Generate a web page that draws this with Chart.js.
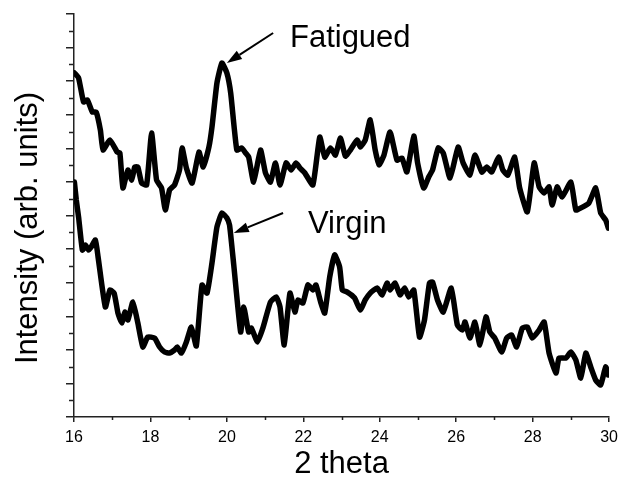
<!DOCTYPE html>
<html><head><meta charset="utf-8">
<script src="https://cdn.jsdelivr.net/npm/chart.js@4/dist/chart.umd.min.js"></script>
<style>html,body{margin:0;padding:0;background:#fff;}#wrap{width:624px;height:478px;}</style>
</head><body><div id="wrap"><canvas id="c" width="624" height="478"></canvas></div>
<script>
const thetaFatigued = [16.01,16.12,16.25,16.35,16.48,16.58,16.69,16.76,16.94,17.13,17.20,17.28,17.41,17.51,17.59,17.67,17.77,17.90,18.03,18.16,18.29,18.39,18.50,18.63,18.76,18.83,18.94,19.09,19.27,19.38,19.53,19.61,19.74,19.87,20.00,20.10,20.26,20.39,20.49,20.57,20.70,20.88,21.01,21.14,21.27,21.39,21.55,21.68,21.81,21.91,22.04,22.25,22.43,22.56,22.71,22.84,22.97,23.10,23.23,23.41,23.49,23.62,23.75,23.88,23.98,24.11,24.27,24.45,24.58,24.71,24.89,24.99,25.15,25.28,25.38,25.53,25.66,25.84,26.05,26.18,26.36,26.49,26.67,26.80,26.93,27.11,27.22,27.35,27.53,27.66,27.86,28.04,28.17,28.30,28.43,28.51,28.64,28.77,29.00,29.13,29.26,29.47,29.65,29.78,29.91,29.98];
const intensityFatigued = [204.9,201.9,187.6,188.8,181.6,181.6,170.9,159.0,165.0,157.8,157.2,136.4,147.1,141.1,148.9,148.9,139.3,138.2,169.1,141.1,136.4,123.3,135.2,138.2,147.1,160.2,148.3,139.3,157.8,148.9,160.8,172.7,198.9,210.8,204.9,192.9,159.0,160.2,157.2,154.8,139.9,159.0,145.3,139.9,151.3,138.2,151.3,147.1,151.3,148.3,145.3,138.2,166.7,154.8,160.2,156.0,166.1,155.4,159.0,165.0,160.8,165.0,176.9,159.0,150.1,156.0,169.7,153.0,154.2,145.9,167.3,151.3,136.4,142.9,147.1,160.2,157.2,142.3,160.8,151.3,144.1,156.0,145.9,148.9,145.9,154.8,147.1,144.1,154.8,136.4,122.1,151.3,137.0,133.4,137.0,126.2,137.0,131.0,139.9,123.3,124.5,127.4,136.4,121.5,117.3,112.5];
const thetaVirgin = [16.01,16.06,16.12,16.22,16.30,16.38,16.45,16.56,16.63,16.82,16.94,17.05,17.15,17.25,17.33,17.41,17.54,17.67,17.80,17.93,18.11,18.24,18.37,18.50,18.63,18.70,18.81,18.94,19.07,19.20,19.35,19.48,19.61,19.74,19.87,20.00,20.07,20.18,20.36,20.44,20.57,20.64,20.80,20.95,21.14,21.29,21.39,21.50,21.65,21.78,21.86,21.99,22.12,22.25,22.33,22.46,22.56,22.69,22.82,22.95,23.02,23.15,23.34,23.49,23.62,23.75,23.93,24.06,24.19,24.27,24.40,24.53,24.65,24.76,24.89,25.04,25.17,25.30,25.38,25.51,25.66,25.87,26.03,26.16,26.23,26.36,26.49,26.62,26.78,26.88,27.01,27.19,27.32,27.45,27.58,27.73,27.86,27.99,28.17,28.30,28.43,28.61,28.69,28.87,29.00,29.13,29.26,29.39,29.52,29.65,29.78,29.91,29.98];
const intensityVirgin = [139.9,129.2,119.1,99.4,102.4,99.4,101.2,105.4,95.3,65.5,75.6,73.8,61.9,56.0,62.5,57.8,68.5,56.0,41.7,47.6,47.0,41.7,38.7,38.1,39.9,41.7,38.1,44.7,53.6,42.3,78.6,73.8,91.7,113.1,121.5,118.5,114.3,90.5,50.6,65.5,50.6,53.0,44.7,53.6,68.5,71.5,65.5,42.9,73.8,62.5,69.7,67.9,78.6,75.6,78.6,67.9,61.9,83.4,96.5,89.3,75.6,74.4,70.9,63.7,69.7,73.8,76.8,72.7,79.8,75.6,79.8,72.7,76.8,71.5,75.6,47.6,57.8,79.8,80.4,69.7,62.5,76.8,54.8,51.8,56.6,47.0,56.6,42.9,59.6,50.6,47.0,38.7,47.0,48.8,41.7,53.0,53.6,47.0,51.8,56.6,38.1,26.2,35.1,35.1,38.7,33.9,23.2,38.1,29.8,22.0,19.1,29.8,25.0];
const xTickValues = [16,18,20,22,24,26,28,30];
const seriesNames = ['Fatigued','Virgin'];
const xTitle = '2 theta';
const yTitle = 'Intensity (arb. units)';

const FONT = 'Arial, "Liberation Sans", Helvetica, sans-serif';
const AXIS = '#222';

function pts(xs, ys){ return xs.map((x,i)=>({x:x, y:ys[i]})); }

const annotations = [
  {text: seriesNames[0], tx: 21.65, ty: 220.3, from: [21.21, 228.7], to: [20.00, 210.8]},
  {text: seriesNames[1], tx: 22.12, ty: 109.6, from: [21.47, 121.5], to: [20.18, 109.6]}
];

const extras = {
  id: 'extras',
  afterDraw(chart){
    const {ctx, scales:{x, y}, chartArea} = chart;
    ctx.save();
    ctx.strokeStyle = AXIS; ctx.lineWidth = 1.5;
    ctx.beginPath();
    for (let v = 17; v < 30; v += 2){
      const px = Math.round(x.getPixelForValue(v)) + 0.5;
      ctx.moveTo(px, chartArea.bottom); ctx.lineTo(px, chartArea.bottom + 3);
    }
    for (let v = 10; v < 240; v += 20){
      const py = Math.round(y.getPixelForValue(v)) + 0.5;
      ctx.moveTo(chartArea.left - 5, py); ctx.lineTo(chartArea.left, py);
    }
    ctx.stroke();
    ctx.fillStyle = '#000'; ctx.strokeStyle = '#000';
    ctx.font = '31px ' + FONT; ctx.textBaseline = 'alphabetic'; ctx.textAlign = 'left';
    annotations.forEach(a => {
      ctx.fillText(a.text, x.getPixelForValue(a.tx), y.getPixelForValue(a.ty));
      const x1 = x.getPixelForValue(a.from[0]), y1 = y.getPixelForValue(a.from[1]);
      const x2 = x.getPixelForValue(a.to[0]), y2 = y.getPixelForValue(a.to[1]);
      const ang = Math.atan2(y2 - y1, x2 - x1);
      const hl = 15, hw = 5;
      const bx = x2 - hl * Math.cos(ang), by = y2 - hl * Math.sin(ang);
      ctx.lineWidth = 2;
      ctx.beginPath(); ctx.moveTo(x1, y1); ctx.lineTo(bx, by); ctx.stroke();
      ctx.beginPath();
      ctx.moveTo(x2, y2);
      ctx.lineTo(bx + hw * Math.sin(ang), by - hw * Math.cos(ang));
      ctx.lineTo(bx - hw * Math.sin(ang), by + hw * Math.cos(ang));
      ctx.closePath(); ctx.fill();
    });
    ctx.font = '31px ' + FONT; ctx.textAlign = 'center'; ctx.textBaseline = 'middle';
    ctx.translate(28, (chartArea.top + chartArea.bottom) / 2 + 12.5);
    ctx.rotate(-Math.PI / 2);
    ctx.fillText(yTitle, 0, 0);
    ctx.restore();
  }
};

new Chart(document.getElementById('c'), {
  type: 'line',
  data: {
    datasets: [
      {label: seriesNames[0], data: pts(thetaFatigued, intensityFatigued)},
      {label: seriesNames[1], data: pts(thetaVirgin, intensityVirgin)}
    ].map(d => Object.assign(d, {borderColor: '#000', borderWidth: 5.5, pointRadius: 0, tension: 0.15, fill: false, borderJoinStyle: 'round', borderCapStyle: 'round'}))
  },
  options: {
    responsive: false, animation: false, devicePixelRatio: 1,
    layout: {padding: {top: 14, right: 9, left: 0, bottom: 0}},
    plugins: {legend: {display: false}, tooltip: {enabled: false}},
    scales: {
      x: {
        type: 'linear', min: 16, max: 30,
        afterFit(s){ s.height = 61; },
        afterBuildTicks(s){ s.ticks = xTickValues.map(v => ({value: v})); },
        ticks: {color: '#000', font: {family: FONT, size: 16}, padding: 6, maxRotation: 0},
        grid: {drawOnChartArea: false, drawTicks: true, tickLength: 5, color: AXIS, lineWidth: 1.5},
        border: {display: true, color: AXIS, width: 1.5},
        title: {display: true, text: xTitle, color: '#000', font: {family: FONT, size: 31, lineHeight: 1}, padding: {top: 0, bottom: -2}}
      },
      y: {
        type: 'linear', min: 0, max: 240,
        afterFit(s){ s.width = 74; },
        ticks: {display: false, stepSize: 20},
        grid: {drawOnChartArea: false, drawTicks: true, tickLength: 8, color: AXIS, lineWidth: 1.5},
        border: {display: true, color: AXIS, width: 1.5}
      }
    }
  },
  plugins: [extras]
});
</script></body></html>
